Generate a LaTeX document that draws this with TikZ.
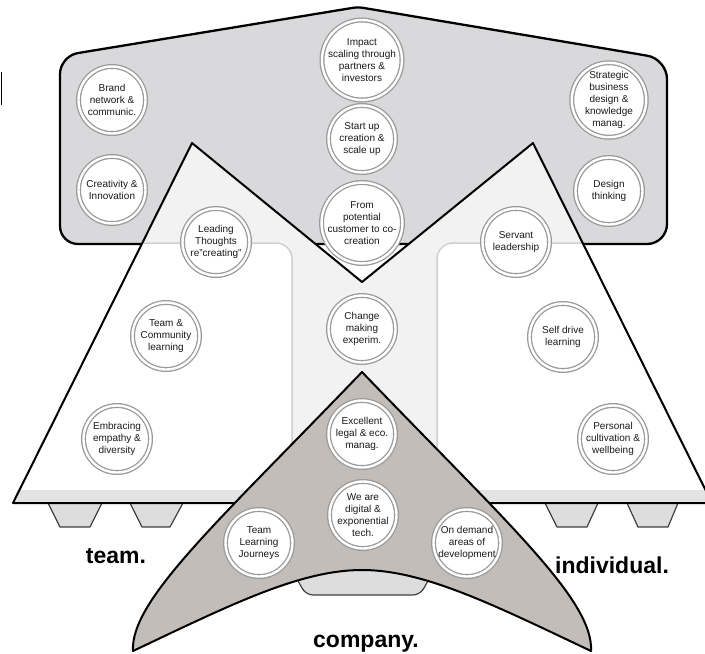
\documentclass[tikz,border=0pt]{standalone}
\usepackage{fontspec}
\setmainfont{Liberation Sans}
\definecolor{topgrey}{HTML}{D9D9DB}
\definecolor{lightfill}{HTML}{F2F2F2}
\definecolor{stripgrey}{HTML}{E3E3E3}
\definecolor{footgrey}{HTML}{DDDDDD}
\definecolor{taupe}{HTML}{C2BDB8}
\definecolor{rectline}{HTML}{D0D0D0}
\definecolor{ringgrey}{HTML}{9A9A9A}
\definecolor{txt}{HTML}{1A1A1A}
\begin{document}
\begin{tikzpicture}[x=1pt,y=-1pt,
  topshape/.style={fill=topgrey, draw=black, line width=2.3pt, line join=round},
  outline/.style={draw=black, line width=2pt, line join=round},
  innerrect/.style={fill=white, draw=rectline, line width=1.5pt},
  foot/.style={fill=footgrey, draw=black!75, line width=1.2pt, line join=round},
  companyshape/.style={fill=taupe, draw=black, line width=2pt, line join=round},
  ring/.style={circle, fill=white, draw=ringgrey, line width=1.3pt, double=white,
    double distance=2.4pt, minimum size=67pt, inner sep=0pt, align=center,
    text=txt, font=\fontsize{10}{12}\selectfont},
  biglabel/.style={font=\fontsize{23}{27}\selectfont\bfseries, text=black, inner sep=0pt}
]
\path[use as bounding box] (0,0) rectangle (705,654);

% small mark at left edge
\draw[line width=1.8pt] (1.5,72) -- (1.5,105);

% top grey shape
\draw[topshape] (200,244) [rounded corners=18] -- (60,244) -- (60,56)
  [rounded corners=5] -- (358,7) [rounded corners=20] -- (667,59) -- (667,244) -- cycle;

% feet under triangles
\draw[foot] (48,503) -- (60,527) -- (90,527) -- (102,503);
\draw[foot] (130,503) -- (142,527) -- (170,527) -- (183,503);
\draw[foot] (545,503) -- (557,527) -- (587,527) -- (598,503);
\draw[foot] (627,503) -- (638,527) -- (668,527) -- (678,503);

% triangles (light region)
\begin{scope}
  \clip (13,503) -- (192,143) -- (362,282) -- (533,143) -- (712,503) -- cycle;
  \fill[lightfill] (0,100) rectangle (720,520);
  \draw[innerrect, rounded corners=16] (-10,243) -- (292,243) -- (292,510) -- (-10,510);
  \draw[innerrect, rounded corners=16] (720,243) -- (437,243) -- (437,510) -- (720,510);
  \fill[stripgrey] (0,490) rectangle (720,503);
\end{scope}
\draw[outline] (13,503) -- (192,143) -- (362,282) -- (533,143) -- (712,503) -- cycle;

% foot under company
\draw[foot, rounded corners=7] (289,565) -- (306,595) -- (420,595) -- (437,565);

% company boomerang
\draw[companyshape] (362,372) .. controls (220,520) and (130,600) .. (133,651)
  .. controls (230,605) and (300,570) .. (362,570)
  .. controls (424,570) and (494,605) .. (591,651)
  .. controls (594,600) and (504,520) .. (362,372) -- cycle;

% circles: top
\node[ring] (impact) at (362,60) {Impact\\scaling through\\partners \&\\investors};
\node[ring] (startup) at (362,139) {Start up\\creation \&\\scale up};
\node[ring] (potential) at (362,223) {From\\potential\\customer to co-\\creation};
\node[ring] (brand) at (112,100) {Brand\\network \&\\communic.};
\node[ring] (creativity) at (112,190) {Creativity \&\\Innovation};
\node[ring] (strategic) at (609,100) {Strategic\\business\\design \&\\knowledge\\manag.};
\node[ring] (design) at (609,191) {Design\\thinking};
% middle
\node[ring] (change) at (362,329) {Change\\making\\experim.};
\node[ring] (leading) at (216,242) {Leading\\Thoughts\\re"creating"};
\node[ring] (teamcom) at (166,336) {Team \&\\Community\\learning};
\node[ring] (embracing) at (117,439) {Embracing\\empathy \&\\diversity};
\node[ring] (servant) at (516,242) {Servant\\leadership};
\node[ring] (selfdrive) at (563,337) {Self drive\\learning};
\node[ring] (personal) at (613,439) {Personal\\cultivation \&\\wellbeing};
% company
\node[ring] (legal) at (362,434) {Excellent\\legal \& eco.\\manag.};
\node[ring] (digital) at (363,515) {We are\\digital \&\\exponential\\tech.};
\node[ring] (journeys) at (259,543) {Team\\Learning\\Journeys};
\node[ring] (ondemand) at (467,543) {On demand\\areas of\\development};

% labels
\node[biglabel, anchor=base] (team) at (116,563) {team.};
\node[biglabel, anchor=base] (individual) at (612,573) {individual.};
\node[biglabel, anchor=base] (company) at (366,647) {company.};
\end{tikzpicture}
\end{document}
